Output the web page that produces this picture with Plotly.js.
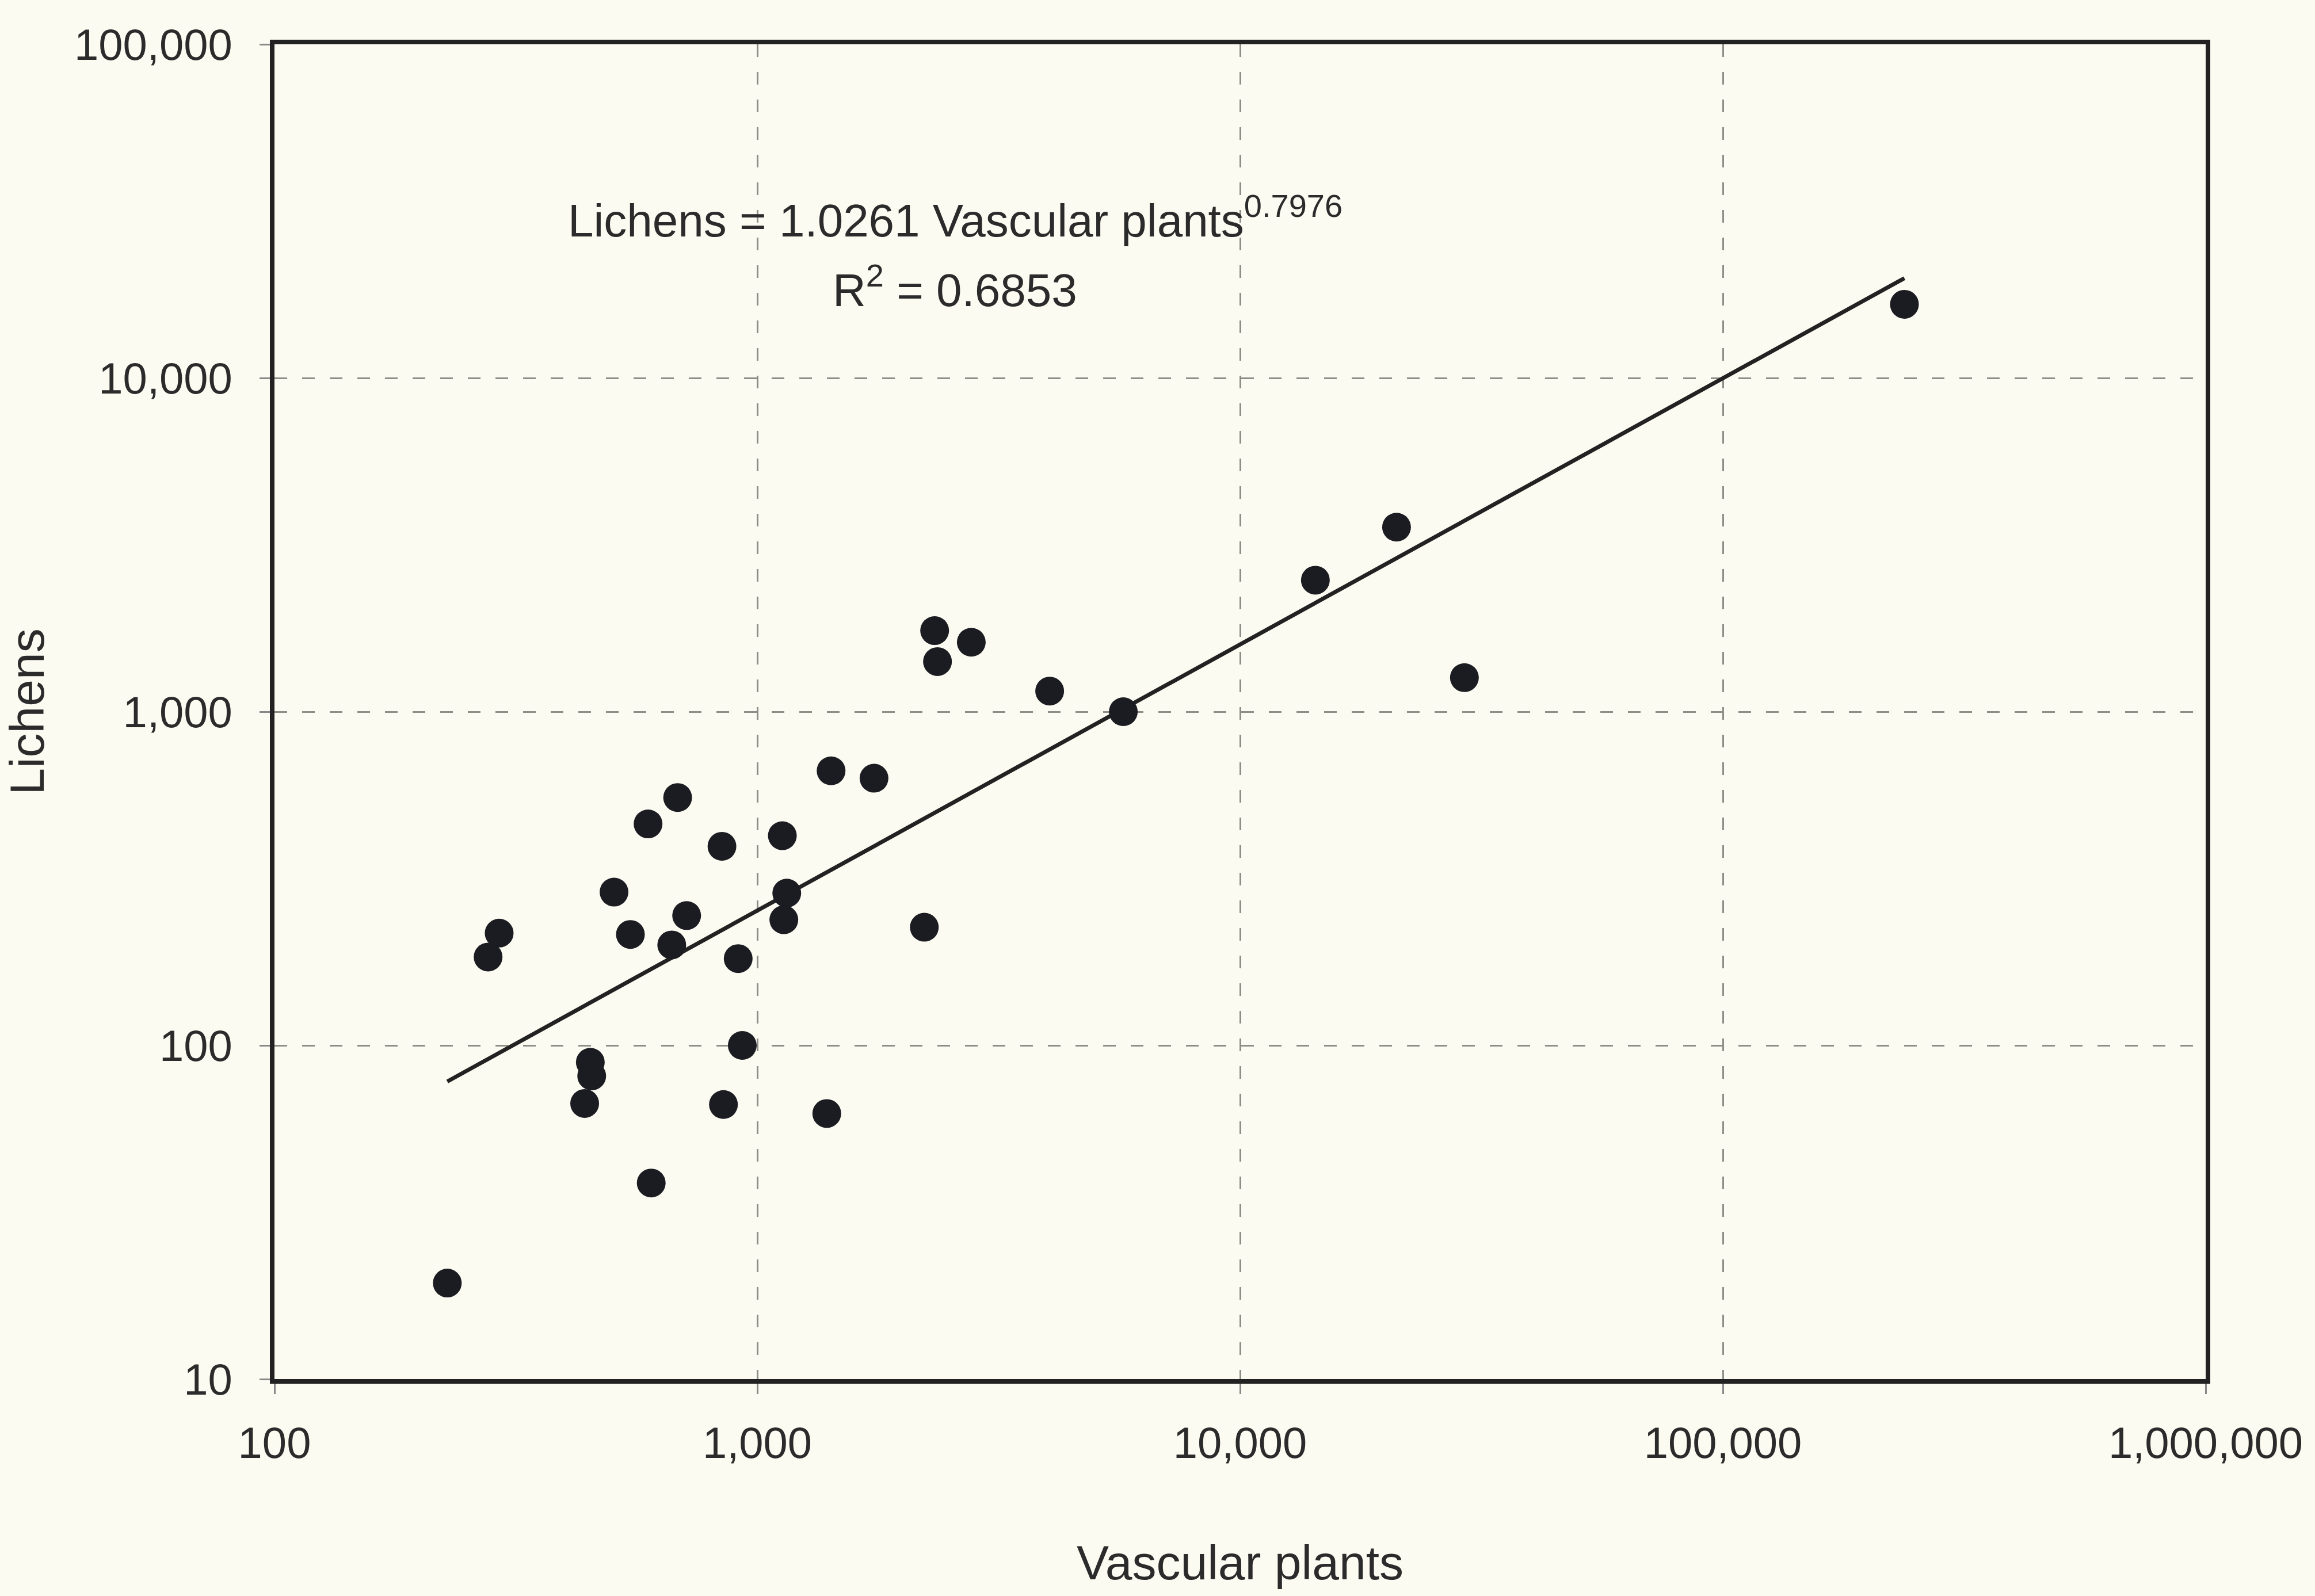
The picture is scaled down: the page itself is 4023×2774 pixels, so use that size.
<!DOCTYPE html>
<html>
<head>
<meta charset="utf-8">
<script src="https://cdn.plot.ly/plotly-3.0.1.min.js"></script>
<style>
  html, body { margin: 0; padding: 0; background: #fcfbf1; }
  #chart { width: 4023px; height: 2774px; }
</style>
</head>
<body>
<div id="chart"></div>
<script>
// Data (log-log scatter)
const vascularPlants = [228, 277, 292, 439, 451, 454, 505, 546, 594, 603, 665, 684, 714, 845, 851, 913, 931,
  1127, 1151, 1135, 1393, 1422, 1745, 2218, 2330, 2362, 2775, 4033, 5730, 14320, 21090, 29150, 237700];
const lichens = [19.4, 184, 217, 67, 89, 81, 288, 215, 461, 38.7, 200, 553, 245, 395, 66.5, 182, 100,
  425, 286, 238, 62.5, 665, 632, 226, 1750, 1413, 1615, 1153, 1000, 2478, 3573, 1265, 16630];

// Power-law fit shown on the chart
const fitCoef = 1.0261;
const fitExp = 0.7976;
const fitRange = [228, 237700];

const xTickVals = [100, 1000, 10000, 100000, 1000000];
const xTickText = ['100', '1,000', '10,000', '100,000', '1,000,000'];
const yTickVals = [10, 100, 1000, 10000, 100000];
const yTickText = ['10', '100', '1,000', '10,000', '100,000'];

const fitX = fitRange.slice();
const fitY = fitX.map(v => fitCoef * Math.pow(v, fitExp));

const FONT = 'Liberation Sans, Arial, sans-serif';
const TXT = '#2b2b2b';

const traces = [
  {
    x: fitX, y: fitY, type: 'scatter', mode: 'lines',
    line: { color: '#222222', width: 7 },
    hoverinfo: 'skip', showlegend: false
  },
  {
    x: vascularPlants, y: lichens, type: 'scatter', mode: 'markers',
    marker: { color: '#1b1b22', size: 50, line: { width: 0 } },
    showlegend: false
  }
];

const axisCommon = {
  type: 'log',
  showline: true, linecolor: '#222222', linewidth: 8, mirror: true,
  showgrid: true, gridcolor: '#8e8e88', gridwidth: 3, griddash: '22px,26px',
  zeroline: false,
  ticks: 'outside', ticklen: 18, tickwidth: 3, tickcolor: '#888888',
  tickfont: { family: FONT, size: 76, color: TXT },
  tickmode: 'array'
};

const layout = {
  width: 4023, height: 2774,
  paper_bgcolor: '#fcfbf1', plot_bgcolor: '#fcfbf1',
  margin: { l: 477, r: 190, t: 77, b: 377 },
  font: { family: FONT, color: TXT },
  showlegend: false,
  xaxis: Object.assign({}, axisCommon, {
    range: [2, 6],
    tickvals: xTickVals, ticktext: xTickText,
    ticklabelstandoff: 20,
    title: { text: 'Vascular plants', font: { family: FONT, size: 84, color: TXT }, standoff: 140 }
  }),
  yaxis: Object.assign({}, axisCommon, {
    range: [1, 5],
    tickvals: yTickVals, ticktext: yTickText,
    ticklabelstandoff: 32,
    title: { text: 'Lichens', font: { family: FONT, size: 84, color: TXT }, standoff: 165 }
  }),
  annotations: [
    {
      xref: 'paper', yref: 'paper', x: 0.3525, y: 0.8707,
      xanchor: 'center', yanchor: 'middle', showarrow: false,
      text: 'Lichens = 1.0261 Vascular plants<sup>0.7976</sup>',
      font: { family: FONT, size: 80, color: TXT }
    },
    {
      xref: 'paper', yref: 'paper', x: 0.3525, y: 0.8185,
      xanchor: 'center', yanchor: 'middle', showarrow: false,
      text: 'R<sup>2</sup> = 0.6853',
      font: { family: FONT, size: 80, color: TXT }
    }
  ]
};

Plotly.newPlot('chart', traces, layout, { staticPlot: true, displayModeBar: false });
</script>
</body>
</html>
